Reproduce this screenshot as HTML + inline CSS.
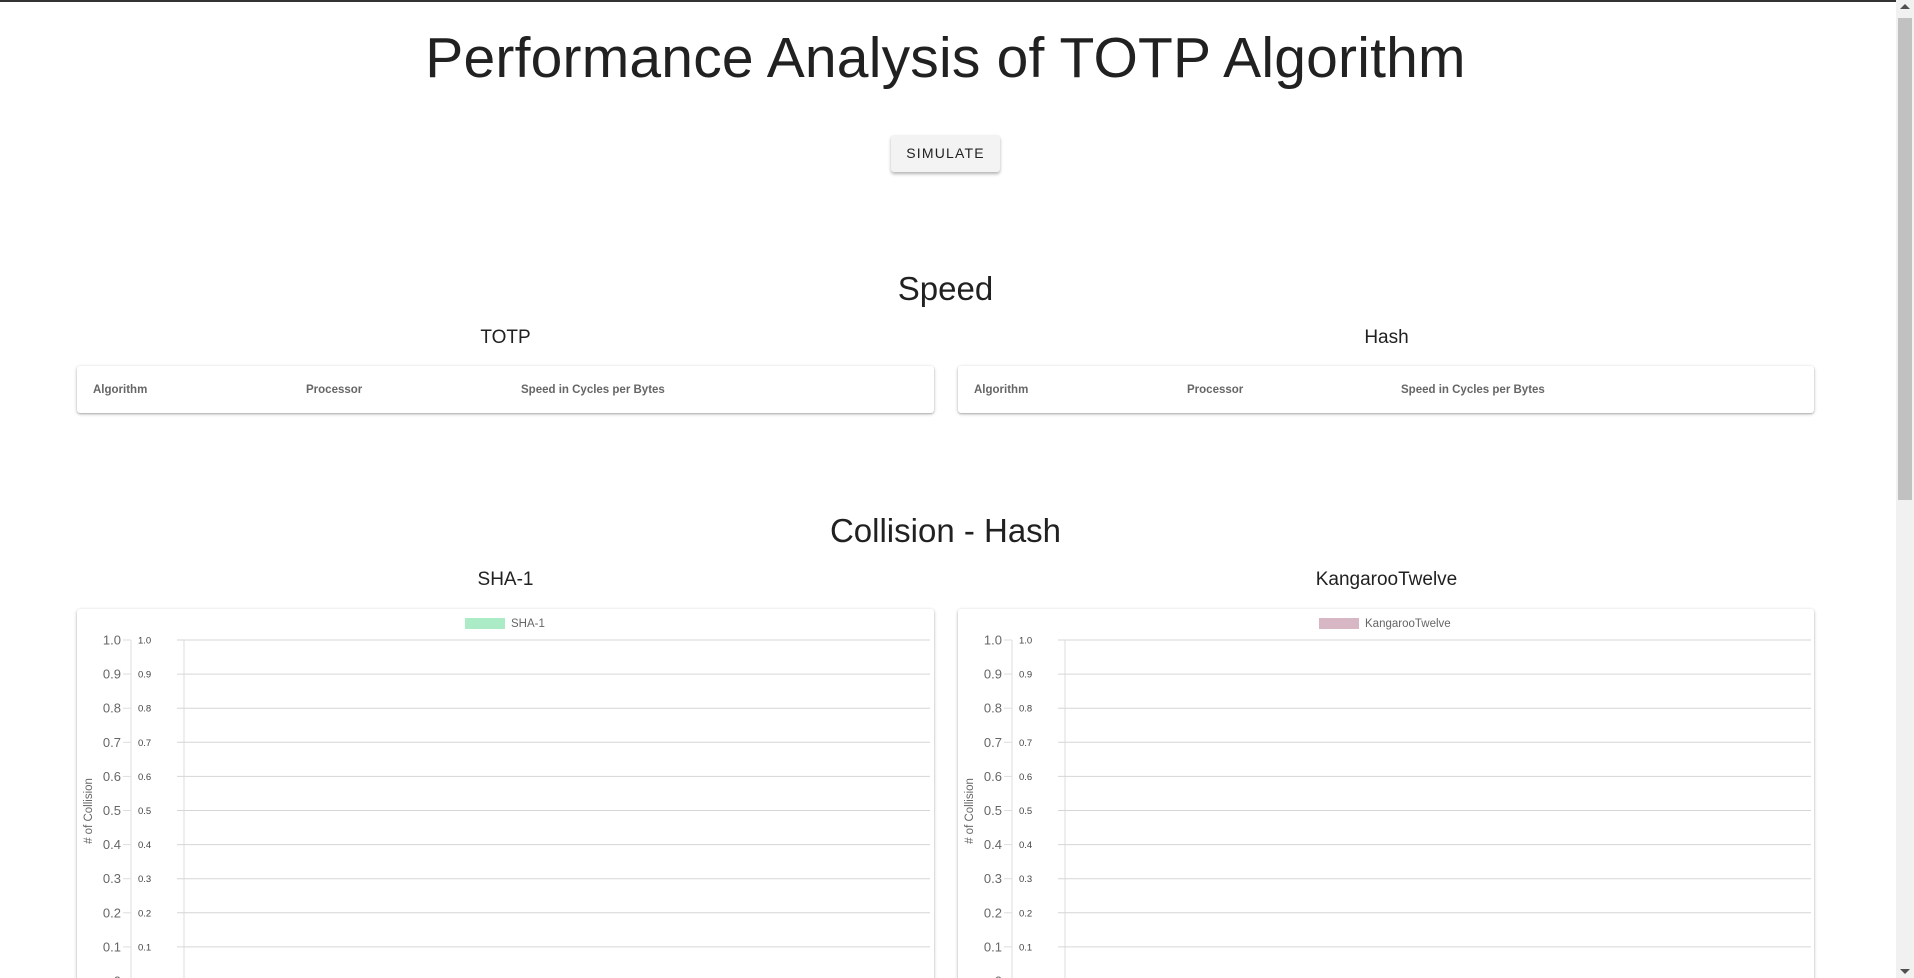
<!DOCTYPE html>
<html><head><meta charset="utf-8">
<style>
html,body{margin:0;padding:0;width:1914px;height:978px;overflow:hidden;background:#fff;font-family:"Liberation Sans",sans-serif;color:#212121}
#wrap{position:relative;width:1914px;height:978px;overflow:hidden}
.abs{position:absolute}
.topline{left:0;top:0;width:1914px;height:2px;background:#333}
h1{position:absolute;left:0;width:1891px;top:23px;margin:0;text-align:center;font-weight:normal;font-size:57px;line-height:70px;letter-spacing:0.2px}
.btn{left:891px;top:135px;width:109px;height:37px;background:#f3f3f3;border-radius:3px;box-shadow:0 2px 3px rgba(0,0,0,.3);font-size:14px;letter-spacing:1.2px;text-align:center;line-height:37px;color:#222}
.h2{left:0;width:1891px;text-align:center;font-size:33px;line-height:40px}
.h3{text-align:center;font-size:19px;line-height:24px;width:857px}
.card{background:#fff;border-radius:3px;box-shadow:0 1px 3px rgba(0,0,0,.3),0 1px 1px rgba(0,0,0,.1)}
.th{font-size:11.5px;font-weight:bold;color:#666;top:384px}
.sb{left:1896px;top:0;width:18px;height:978px;background:#f1f1f1}
.thumb{left:1898px;top:18px;width:14px;height:482px;background:#c1c1c1}
</style></head><body>
<div id="wrap">
<div class="abs topline"></div>
<h1>Performance Analysis of TOTP Algorithm</h1>
<div class="abs btn">SIMULATE</div>

<div class="abs h2" style="top:269px">Speed</div>
<div class="abs h3" style="left:77px;top:326px">TOTP</div>
<div class="abs h3" style="left:958px;top:326px">Hash</div>
<div class="abs card" style="left:77px;top:366px;width:857px;height:47px"></div>
<div class="abs card" style="left:958px;top:366px;width:856px;height:47px"></div>
<div class="abs th" style="left:93px">Algorithm</div>
<div class="abs th" style="left:306px">Processor</div>
<div class="abs th" style="left:521px">Speed in Cycles per Bytes</div>
<div class="abs th" style="left:974px">Algorithm</div>
<div class="abs th" style="left:1187px">Processor</div>
<div class="abs th" style="left:1401px">Speed in Cycles per Bytes</div>

<div class="abs h2" style="top:511px">Collision - Hash</div>
<div class="abs h3" style="left:77px;top:568px">SHA-1</div>
<div class="abs h3" style="left:958px;top:568px">KangarooTwelve</div>
<div class="abs card" style="left:77px;top:609px;width:857px;height:400px"></div>
<div class="abs card" style="left:958px;top:609px;width:856px;height:400px"></div>
<svg class="abs" id="charts" style="left:0;top:0" width="1914" height="978"></svg>

<div class="abs sb"></div>
<div class="abs thumb"></div>
<div class="abs" style="left:1900px;top:4px;width:0;height:0;border-left:5px solid transparent;border-right:5px solid transparent;border-bottom:5px solid #505050"></div>
<div class="abs" style="left:1900px;top:969px;width:0;height:0;border-left:5px solid transparent;border-right:5px solid transparent;border-top:5px solid #505050"></div>
</div>

<script>
const yTicks = [0, 0.1, 0.2, 0.3, 0.4, 0.5, 0.6, 0.7, 0.8, 0.9, 1.0];
const sha1Categories = [];
const sha1Values = [];
const k12Categories = [];
const k12Values = [];
const seriesNames = ["SHA-1", "KangarooTwelve"];
const seriesColors = ["#abebc6", "#d7b7c3"];

const NS = "http://www.w3.org/2000/svg";
const svg = document.getElementById('charts');
function mk(tag, attrs, txt){const e=document.createElementNS(NS,tag);for(const k in attrs)e.setAttribute(k,attrs[k]);if(txt!==undefined)e.textContent=txt;svg.appendChild(e);return e;}

function drawChart(ox, name, color, cats, vals, key){
  const y = v => 981 - v*341;
  const plotL = ox+184, plotR = ox+930;
  const x = i => plotL + (i+0.5)*(plotR-plotL)/Math.max(cats.length,1);
  const sw = mk('rect',{x:(key==='sha1'?465:1319),y:618,width:40,height:11,fill:color});
  
  
  const lt = mk('text',{x:(key==='sha1'?511:1365),y:627,'font-size':11.5,fill:'#666','font-family':'Liberation Sans, sans-serif'},name);
  
  
  const a1 = mk('line',{x1:ox+131,y1:y(1),x2:ox+131,y2:978,stroke:'#ddd'});
  
  
  const a2 = mk('line',{x1:plotL,y1:y(1),x2:plotL,y2:978,stroke:'#ddd'});
  
  
  yTicks.forEach(t=>{
    const g = mk('line',{x1:ox+177,y1:y(t),x2:plotR,y2:y(t),stroke:'#d6d6d6'});
    
    
    const tk = mk('line',{x1:ox+123,y1:y(t),x2:ox+131,y2:y(t),stroke:'#ddd'});
    
    
    const lab = t===0?'0':t.toFixed(1);
    const t1 = mk('text',{x:ox+121,y:y(t)+4.5,'text-anchor':'end','font-size':13,fill:'#666','font-family':'Liberation Sans, sans-serif'},lab);
    
    
    const t2 = mk('text',{x:ox+138,y:y(t)+3.5,'font-size':9.5,fill:'#444','font-family':'Liberation Sans, sans-serif'},lab);
    
    
  });
  const at = mk('text',{x:0,y:0,'text-anchor':'middle','font-size':11.5,fill:'#666','font-family':'Liberation Sans, sans-serif',transform:'translate('+(ox+92)+',811) rotate(-90)'},'# of Collision');
  
  
  vals.forEach((v,i)=>{
    const bw = (plotR-plotL)/cats.length*0.8;
    const b = mk('rect',{x:x(i)-bw/2,y:y(v),width:bw,height:y(0)-y(v),fill:color});
    
    
  });
}
drawChart(0, seriesNames[0], seriesColors[0], sha1Categories, sha1Values, 'sha1');
drawChart(881, seriesNames[1], seriesColors[1], k12Categories, k12Values, 'k12');
</script>
</body></html>
